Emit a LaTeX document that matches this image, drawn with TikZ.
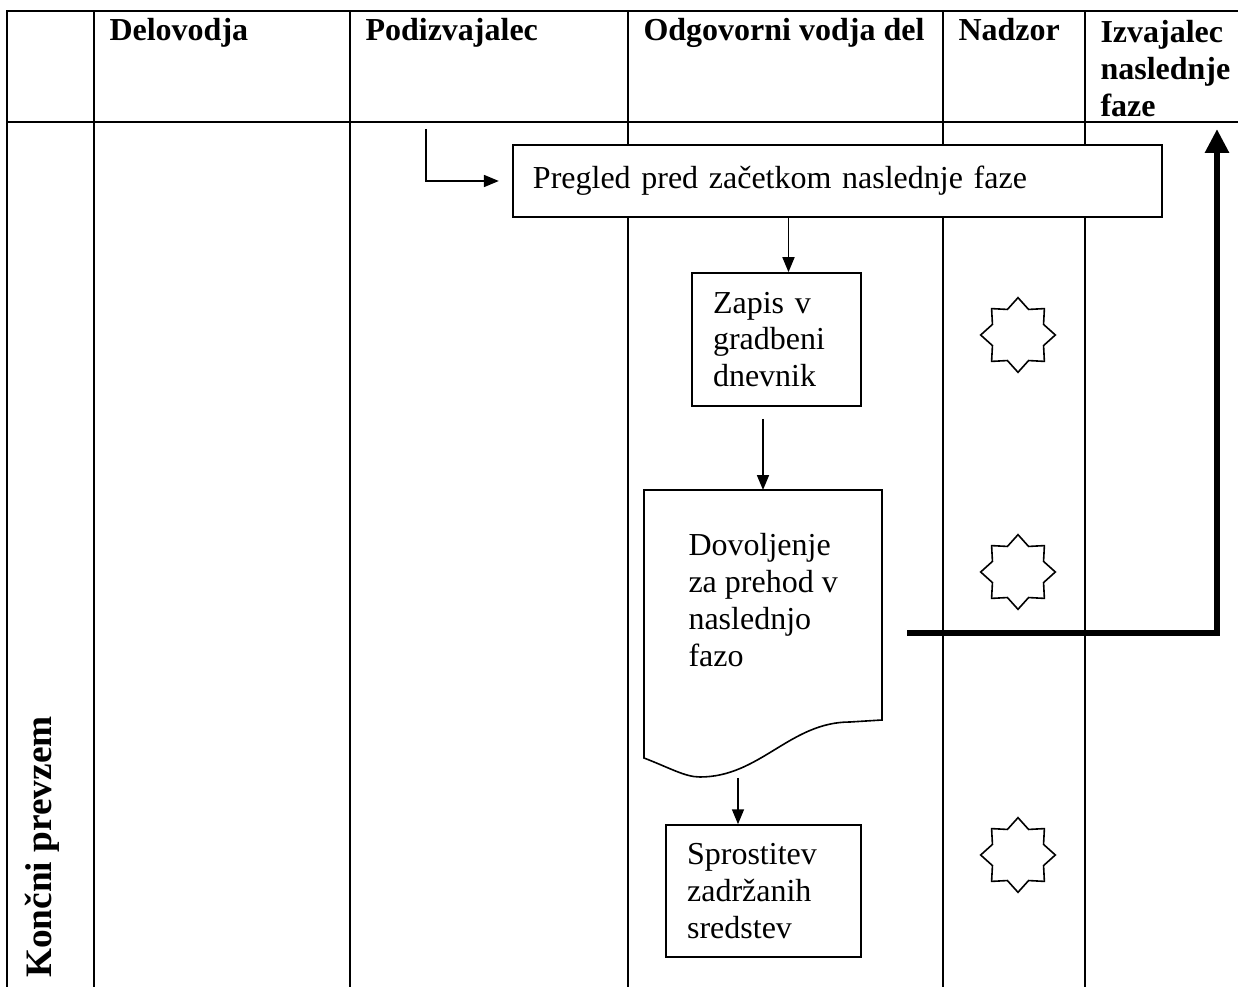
\documentclass[tikz,border=0pt]{standalone}
\usepackage{fontspec}
\setmainfont{Liberation Serif}
\usepackage{tikz}
\usetikzlibrary{positioning}
\usetikzlibrary{arrows.meta}
\usetikzlibrary{shapes.geometric}

\begin{document}
\begin{tikzpicture}
[x = 0.375pt, y = -0.375pt, 
table line/.style = {line width = 1pt, line cap = rect}, 
header/.style = {inner sep = 0pt, align = left, font = \bfseries\fontsize{12}{13.8}\selectfont}, 
box/.style = {draw, fill = white, line width = 0.6pt, align = left, inner ysep = 0pt, font = \fontsize{12}{13.8}\selectfont}, 
flow/.style = {line width = 0.6pt, -{Triangle[length = 5.6pt, width = 4.5pt]}}, 
main flow/.style = {line width = 2.6pt, -{Triangle[length = 9pt, width = 8.6pt]}}, 
nadzor star/.style = {draw, star, star points = 8, star point ratio = 1.35, minimum size = 28pt, inner sep = 0pt, line width = 0.6pt}]

\useasboundingbox (0, 0) rectangle (1238, 987);

\foreach \x in {7, 94, 350, 628, 943, 1085} \draw[table line] (\x, 11) -- (\x, 987);
\draw[table line] (7, 11) -- (1238, 11);
\draw[table line] (7, 122) -- (1238, 122);

\foreach \x/\xtext in {94/Delovodja, 350/Podizvajalec, 628/Odgovorni vodja del, 943/Nadzor} \node[header, anchor = base west] (head \x) at (\x + 15, 41) {\xtext};
\node[header, anchor = north west] (head 1085) at (1100, 20) {Izvajalec\\naslednje\\faze};

\node[rotate = 90, inner sep = 0pt, font = \bfseries\fontsize{14}{16}\selectfont] (phase) at (42, 847) {Kon\v{c}ni prevzem};

\node[box, inner xsep = 7.5pt, text width = 228.4pt, minimum height = 27pt] (pregled) at (837.5, 181) {Pregled pred za\v{c}etkom naslednje faze};
\node[box, inner xsep = 7.9pt, text width = 47.6pt, minimum height = 49.9pt] (zapis) at (776.5, 339.5) {Zapis v\\gradbeni\\dnevnik};

\filldraw[fill = white, line width = 0.6pt] (644, 490) -- (882, 490) -- (882, 720) -- (850, 722) .. controls (790, 722) and (760, 777) .. (700, 777) .. controls (685, 777) and (670, 768) .. (644, 758) -- cycle;
\node[inner sep = 0pt, align = left, anchor = west, font = \fontsize{12}{13.8}\selectfont] (dovoljenje) at (688, 600) {Dovoljenje\\za prehod v\\naslednjo\\fazo};
\coordinate (doc top) at (763, 490);
\coordinate (doc bottom) at (738, 778);

\node[box, inner xsep = 7.9pt, text width = 57.3pt, minimum height = 49.5pt] (sprostitev) at (763.5, 891) {Sprostitev\\zadr\v{z}anih\\sredstev};

\foreach \y/\name in {335/a, 572/b, 855/c} \node[nadzor star] (star \name) at (1018, \y) {};

\coordinate (podizvajalec) at (426, 129);
\draw[flow, shorten >= 5pt] (podizvajalec) |- (pregled.west);
\draw[flow] ([xshift = 4.5pt] zapis.north |- pregled.south) -- ([xshift = 4.5pt] zapis.north);
\draw[flow, shorten <= 4.5pt] (zapis.south -| doc top) -- (doc top);
\draw[flow] (doc bottom) -- (doc bottom |- sprostitev.north);

\coordinate (flow out) at (907, 633);
\coordinate (next phase) at (1217, 129);
\draw[main flow] (flow out) -| (next phase);
\end{tikzpicture}
\end{document}
